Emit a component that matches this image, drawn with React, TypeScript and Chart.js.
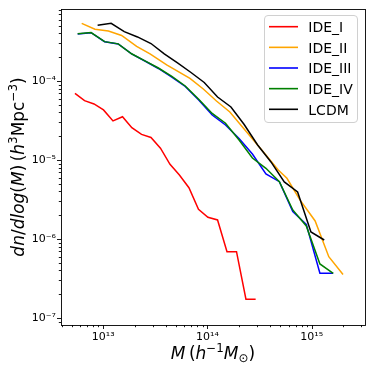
import React, { useEffect, useRef } from "react";
import { Chart, registerables } from "chart.js";
Chart.register(...registerables);

// ---------- data ----------
const massIDE1 = [5.35e12, 6.61e12, 8.15e12, 1.005e13, 1.24e13, 1.53e13, 1.88e13, 2.33e13, 2.87e13, 3.54e13, 4.37e13, 5.38e13, 6.64e13, 8.2e13, 1.01e14, 1.25e14, 1.54e14, 1.9e14, 2.34e14, 2.9e14];
const nIDE1 = [6.98e-5, 5.63e-5, 5.12e-5, 4.3e-5, 3.12e-5, 3.53e-5, 2.56e-5, 2.11e-5, 1.93e-5, 1.41e-5, 8.82e-6, 6.46e-6, 4.46e-6, 2.37e-6, 1.88e-6, 1.74e-6, 6.9e-7, 6.9e-7, 1.73e-7, 1.73e-7];

const massIDE2 = [6.21e12, 8.32e12, 1.12e13, 1.5e13, 2.09e13, 2.81e13, 4.06e13, 6.79e13, 9.12e13, 1.22e14, 1.64e14, 2.56e14, 3.43e14, 4.78e14, 5.79e14, 7.72e14, 1.08e15, 1.46e15, 2.0e15];
const nIDE2 = [5.37e-4, 4.51e-4, 4.3e-4, 3.77e-4, 2.74e-4, 2.2e-4, 1.6e-4, 1.08e-4, 7.92e-5, 5.58e-5, 4.05e-5, 2.01e-5, 1.27e-5, 7.46e-6, 5.86e-6, 3.12e-6, 1.69e-6, 5.97e-7, 3.56e-7];

const massIDE3 = [5.68e12, 7.64e12, 1.03e13, 1.39e13, 1.87e13, 2.51e13, 3.38e13, 4.55e13, 6.12e13, 8.24e13, 1.11e14, 1.49e14, 2.01e14, 2.7e14, 3.64e14, 4.9e14, 6.59e14, 8.88e14, 1.2e15, 1.61e15];
const nIDE3 = [3.94e-4, 4.09e-4, 3.14e-4, 2.94e-4, 2.2e-4, 1.79e-4, 1.44e-4, 1.12e-4, 8.52e-5, 5.74e-5, 3.71e-5, 2.77e-5, 1.87e-5, 1.19e-5, 6.65e-6, 5.31e-6, 2.22e-6, 1.53e-6, 3.68e-7, 3.68e-7];

const massIDE4 = [5.68e12, 7.64e12, 1.03e13, 1.39e13, 1.87e13, 2.51e13, 3.38e13, 4.55e13, 6.12e13, 8.24e13, 1.11e14, 1.49e14, 2.01e14, 2.7e14, 3.64e14, 4.9e14, 6.59e14, 8.88e14, 1.2e15, 1.61e15];
const nIDE4 = [3.96e-4, 4.1e-4, 3.15e-4, 2.95e-4, 2.21e-4, 1.8e-4, 1.46e-4, 1.14e-4, 8.65e-5, 5.86e-5, 3.88e-5, 2.92e-5, 1.79e-5, 1.06e-5, 7.85e-6, 5.31e-6, 2.33e-6, 1.46e-6, 4.83e-7, 3.68e-7];

const massLCDM = [8.83e12, 1.19e13, 1.59e13, 2.13e13, 2.87e13, 3.85e13, 5.16e13, 6.95e13, 9.31e13, 1.25e14, 1.68e14, 2.25e14, 3.03e14, 4.07e14, 5.46e14, 7.33e14, 9.84e14, 1.32e15];
const nLCDM = [5.07e-4, 5.37e-4, 4.21e-4, 3.61e-4, 2.98e-4, 2.2e-4, 1.69e-4, 1.28e-4, 9.57e-5, 6.26e-5, 4.69e-5, 2.81e-5, 1.55e-5, 9.44e-6, 5.27e-6, 3.94e-6, 1.23e-6, 9.71e-7];

const seriesLabels = ["IDE_I", "IDE_II", "IDE_III", "IDE_IV", "LCDM"];
const seriesColors = ["#ff0000", "#ffa500", "#0000ff", "#008000", "#000000"];
const seriesMass = [massIDE1, massIDE2, massIDE3, massIDE4, massLCDM];
const seriesN = [nIDE1, nIDE2, nIDE3, nIDE4, nLCDM];

const xMin = 3.93e12;
const xMax = 3.25e15;
const yMin = 8.15e-8;
const yMax = 8.15e-4;
const xTickValues = [1e13, 1e14, 1e15];
const xTickLabels = ["10¹³", "10¹⁴", "10¹⁵"];
const yTickValues = [1e-7, 1e-6, 1e-5, 1e-4];
const yTickLabels = ["10⁻⁷", "10⁻⁶", "10⁻⁵", "10⁻⁴"];

const FONT = "'DejaVu Sans', sans-serif";

type Seg = { t: string; i?: boolean; s?: "sup" | "sub" };
const xTitle: Seg[] = [
  { t: "M", i: true },
  { t: "\u2009(" },
  { t: "h", i: true },
  { t: "−1", s: "sup" },
  { t: "M", i: true },
  { t: "⊙", s: "sub" },
  { t: ")" },
];
const yTitle: Seg[] = [
  { t: "dn", i: true },
  { t: "/" },
  { t: "dlog", i: true },
  { t: "(" },
  { t: "M", i: true },
  { t: ")\u2009(" },
  { t: "h", i: true },
  { t: "3", s: "sup" },
  { t: "Mpc" },
  { t: "−3", s: "sup" },
  { t: ")" },
];

function segFont(seg: Seg, size: number) {
  const sz = seg.s ? size * 0.7 : size;
  return `${seg.i ? "italic " : ""}${sz}px ${FONT}`;
}

function drawRich(ctx: CanvasRenderingContext2D, segs: Seg[], size: number, cx: number, baseY: number) {
  let total = 0;
  const widths = segs.map((sg) => {
    ctx.font = segFont(sg, size);
    const w = ctx.measureText(sg.t).width;
    total += w;
    return w;
  });
  let x = cx - total / 2;
  ctx.textBaseline = "alphabetic";
  ctx.textAlign = "left";
  segs.forEach((sg, k) => {
    ctx.font = segFont(sg, size);
    let y = baseY;
    if (sg.s === "sup") y -= size * 0.4;
    if (sg.s === "sub") y += size * 0.18;
    ctx.fillText(sg.t, x, y);
    x += widths[k];
  });
}

const decorPlugin = {
  id: "decor",
  afterDraw(chart: any) {
    const ctx: CanvasRenderingContext2D = chart.ctx;
    const a = chart.chartArea;
    const xs = chart.scales.x;
    const ys = chart.scales.y;
    ctx.save();
    ctx.strokeStyle = "#000";
    ctx.lineWidth = 0.9;
    // x ticks
    for (let e = 12; e <= 15; e++) {
      for (let m = 1; m <= 9; m++) {
        const v = m * Math.pow(10, e);
        if (v < xMin || v > xMax) continue;
        const px = Math.round(xs.getPixelForValue(v)) + 0.5;
        const len = m === 1 ? 4 : 2.2;
        ctx.beginPath();
        ctx.moveTo(px, a.bottom);
        ctx.lineTo(px, a.bottom + len);
        ctx.stroke();
      }
    }
    for (let e = -8; e <= -4; e++) {
      for (let m = 1; m <= 9; m++) {
        const v = m * Math.pow(10, e);
        if (v < yMin || v > yMax) continue;
        const py = Math.round(ys.getPixelForValue(v)) + 0.5;
        const len = m === 1 ? 4 : 2.2;
        ctx.beginPath();
        ctx.moveTo(a.left, py);
        ctx.lineTo(a.left - len, py);
        ctx.stroke();
      }
    }
    // spines
    ctx.strokeRect(Math.round(a.left) + 0.5, Math.round(a.top) + 0.5, Math.round(a.right - a.left), Math.round(a.bottom - a.top));

    // axis titles
    ctx.fillStyle = "#000";
    drawRich(ctx, xTitle, 17, (a.left + a.right) / 2, 359);
    ctx.save();
    ctx.translate(24, (a.top + a.bottom) / 2);
    ctx.rotate(-Math.PI / 2);
    drawRich(ctx, yTitle, 17, 0, 0);
    ctx.restore();

    // legend
    const bx = 264.5, by = 15.5, bw = 93, bh = 107, r = 3.5;
    ctx.beginPath();
    ctx.moveTo(bx + r, by);
    ctx.lineTo(bx + bw - r, by);
    ctx.arcTo(bx + bw, by, bx + bw, by + r, r);
    ctx.lineTo(bx + bw, by + bh - r);
    ctx.arcTo(bx + bw, by + bh, bx + bw - r, by + bh, r);
    ctx.lineTo(bx + r, by + bh);
    ctx.arcTo(bx, by + bh, bx, by + bh - r, r);
    ctx.lineTo(bx, by + r);
    ctx.arcTo(bx, by, bx + r, by, r);
    ctx.closePath();
    ctx.fillStyle = "rgba(255,255,255,0.8)";
    ctx.fill();
    ctx.strokeStyle = "#d0d0d0";
    ctx.lineWidth = 1;
    ctx.stroke();
    chart.data.datasets.forEach((ds: any, k: number) => {
      const cy = 26.7 + k * 20.65;
      ctx.strokeStyle = ds.borderColor;
      ctx.lineWidth = 1.6;
      ctx.beginPath();
      ctx.moveTo(269, cy);
      ctx.lineTo(298, cy);
      ctx.stroke();
      ctx.fillStyle = "#000";
      ctx.font = `14px ${FONT}`;
      ctx.textAlign = "left";
      ctx.textBaseline = "alphabetic";
      ctx.fillText(ds.label, 308.3, cy + 5.3);
    });
    ctx.restore();
  },
};

export default function App() {
  const ref = useRef<HTMLCanvasElement | null>(null);
  useEffect(() => {
    if (!ref.current) return;
    const datasets = seriesLabels.map((label, k) => ({
      label,
      data: seriesMass[k].map((m, j) => ({ x: m, y: seriesN[k][j] })),
      borderColor: seriesColors[k],
      backgroundColor: seriesColors[k],
      borderWidth: 1.5,
      pointRadius: 0,
      showLine: true,
      tension: 0,
      fill: false,
      order: seriesLabels.length - k,
    }));
    const chart = new Chart(ref.current, {
      type: "scatter",
      data: { datasets },
      options: {
        animation: false,
        responsive: false,
        devicePixelRatio: 1,
        layout: { padding: { left: 0, top: 9, right: 9, bottom: 0 } },
        plugins: { legend: { display: false }, tooltip: { enabled: false }, title: { display: false } },
        scales: {
          x: {
            type: "logarithmic",
            position: "bottom",
            min: xMin,
            max: xMax,
            grid: { display: false, drawTicks: true, tickLength: 4 },
            border: { display: false },
            ticks: {
              autoSkip: false,
              maxRotation: 0,
              padding: 2,
              color: "#000",
              font: { family: FONT, size: 11 },
              callback: (_v: any, i: number) => xTickLabels[i],
            },
            afterBuildTicks: (s: any) => {
              s.ticks = xTickValues.map((v) => ({ value: v }));
            },
            afterFit: (s: any) => {
              s.height = 49;
            },
          },
          y: {
            type: "logarithmic",
            position: "left",
            min: yMin,
            max: yMax,
            grid: { display: false, drawTicks: true, tickLength: 4 },
            border: { display: false },
            ticks: {
              autoSkip: false,
              padding: 1,
              color: "#000",
              font: { family: FONT, size: 11 },
              callback: (_v: any, i: number) => yTickLabels[i],
            },
            afterBuildTicks: (s: any) => {
              s.ticks = yTickValues.map((v) => ({ value: v }));
            },
            afterFit: (s: any) => {
              s.width = 61;
            },
          },
        },
      } as any,
      plugins: [decorPlugin],
    });
    return () => chart.destroy();
  }, []);
  return (
    <div style={{ position: "fixed", left: 0, top: 0, width: 374, height: 374, background: "#fff" }}>
      <canvas ref={ref} width={374} height={374} style={{ display: "block", width: 374, height: 374 }} />
    </div>
  );
}
